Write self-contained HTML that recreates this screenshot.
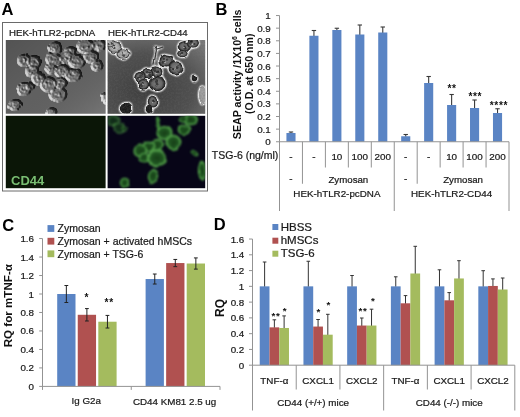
<!DOCTYPE html>
<html lang="en"><head><meta charset="utf-8"><title>Figure</title>
<style>html,body{margin:0;padding:0;background:#fff;}svg{display:block;}</style></head><body>
<svg width="520" height="417" viewBox="0 0 520 417" font-family='"Liberation Sans", Arial, sans-serif'>
<rect width="520" height="417" fill="#fff"/>
<defs>
<linearGradient id="bg1" x1="0" y1="0" x2="1" y2="1"><stop offset="0" stop-color="#5c5c5c"/><stop offset="0.55" stop-color="#747474"/><stop offset="1" stop-color="#868686"/></linearGradient>
<radialGradient id="bg2" cx="0.38" cy="0.68" r="0.9"><stop offset="0" stop-color="#3f3f3f"/><stop offset="0.55" stop-color="#505050"/><stop offset="1" stop-color="#7e7e7e"/></radialGradient>
<linearGradient id="dicS" x1="0" y1="1" x2="1" y2="0"><stop offset="0" stop-color="#f4f4f4"/><stop offset="0.35" stop-color="#c0c0c0" stop-opacity="0.7"/><stop offset="0.55" stop-color="#888" stop-opacity="0"/><stop offset="1" stop-color="#333" stop-opacity="0.5"/></linearGradient>
<linearGradient id="dicS2" x1="0" y1="1" x2="1" y2="0"><stop offset="0" stop-color="#111"/><stop offset="0.5" stop-color="#666"/><stop offset="1" stop-color="#eee"/></linearGradient>
<radialGradient id="dicF" cx="0.45" cy="0.55" r="0.6"><stop offset="0" stop-color="#a8a8a8"/><stop offset="0.7" stop-color="#858585"/><stop offset="1" stop-color="#5a5a5a"/></radialGradient>
<radialGradient id="phF" cx="0.5" cy="0.5" r="0.5"><stop offset="0" stop-color="#808080"/><stop offset="0.6" stop-color="#666"/><stop offset="0.86" stop-color="#262626"/><stop offset="1" stop-color="#181818"/></radialGradient>
<radialGradient id="phL" cx="0.5" cy="0.5" r="0.5"><stop offset="0" stop-color="#c4c4c4"/><stop offset="0.7" stop-color="#a8a8a8"/><stop offset="0.9" stop-color="#3a3a3a"/><stop offset="1" stop-color="#222"/></radialGradient>
<radialGradient id="flF" cx="0.5" cy="0.5" r="0.5"><stop offset="0" stop-color="#163c16"/><stop offset="0.62" stop-color="#205722"/><stop offset="0.87" stop-color="#5cab50"/><stop offset="1" stop-color="#3d8a38" stop-opacity="0.5"/></radialGradient>
<filter id="bl4" x="-10%" y="-10%" width="120%" height="120%"><feGaussianBlur stdDeviation="0.45"/></filter>
<filter id="bl6" x="-10%" y="-10%" width="120%" height="120%"><feGaussianBlur stdDeviation="0.7"/></filter>
<filter id="bl9" x="-10%" y="-10%" width="120%" height="120%"><feGaussianBlur stdDeviation="1.0"/></filter>
<filter id="noise" x="0" y="0" width="100%" height="100%"><feTurbulence type="fractalNoise" baseFrequency="0.35" numOctaves="2" seed="3" result="n"/><feColorMatrix type="matrix" values="0 0 0 0 0.5  0 0 0 0 0.5  0 0 0 0 0.5  0.9 0 0 0 -0.33"/></filter>
<radialGradient id="dome"><stop offset="0" stop-color="#000" stop-opacity="0.52"/><stop offset="0.8" stop-color="#000" stop-opacity="0.5"/><stop offset="0.93" stop-color="#000" stop-opacity="0.4"/><stop offset="1" stop-color="#000" stop-opacity="0"/></radialGradient>
<filter id="dic" filterUnits="userSpaceOnUse" x="5.8" y="40" width="99.8" height="73.8" color-interpolation-filters="sRGB"><feTurbulence type="fractalNoise" baseFrequency="0.09" numOctaves="2" seed="5" result="turb"/><feDisplacementMap in="SourceGraphic" in2="turb" scale="3" xChannelSelector="R" yChannelSelector="G" result="disp"/><feTurbulence type="fractalNoise" baseFrequency="0.45" numOctaves="2" seed="11" result="fine"/><feComposite in="disp" in2="fine" operator="arithmetic" k1="0.45" k2="0.75" k3="0" k4="0" result="tex"/><feGaussianBlur in="tex" stdDeviation="0.5" result="h"/><feDiffuseLighting in="h" surfaceScale="2.6" diffuseConstant="0.84" lighting-color="#ffffff" result="lit"><feDistantLight azimuth="150" elevation="30"/></feDiffuseLighting><feGaussianBlur in="lit" stdDeviation="0.35" result="lb"/><feComponentTransfer in="lb" result="lc"><feFuncR type="table" tableValues="0.08 0.27 0.45 0.82 1"/><feFuncG type="table" tableValues="0.08 0.27 0.45 0.82 1"/><feFuncB type="table" tableValues="0.08 0.27 0.45 0.82 1"/></feComponentTransfer><feFlood flood-color="#ffffff" flood-opacity="0.2" result="wf"/><feGaussianBlur in="disp" stdDeviation="0.9" result="db"/><feComposite in="wf" in2="db" operator="in" result="glow"/><feMerge><feMergeNode in="lc"/><feMergeNode in="glow"/></feMerge></filter>
<linearGradient id="ov1" x1="0" y1="0" x2="1" y2="1"><stop offset="0" stop-color="#000" stop-opacity="0.16"/><stop offset="0.5" stop-color="#000" stop-opacity="0.03"/><stop offset="1" stop-color="#fff" stop-opacity="0.12"/></linearGradient>
<filter id="warp6" filterUnits="userSpaceOnUse" x="107.6" y="40" width="97.6" height="73.8" color-interpolation-filters="sRGB"><feTurbulence type="fractalNoise" baseFrequency="0.1" numOctaves="2" seed="8" result="turb"/><feDisplacementMap in="SourceGraphic" in2="turb" scale="3.5" xChannelSelector="R" yChannelSelector="G" result="d"/><feGaussianBlur in="d" stdDeviation="0.55" result="cell"/><feGaussianBlur in="d" stdDeviation="1.4" result="wide"/><feGaussianBlur in="d" stdDeviation="0.45" result="tight"/><feComposite in="wide" in2="tight" operator="out" result="ring"/><feFlood flood-color="#f4f4f4" result="wf"/><feComposite in="wf" in2="ring" operator="in" result="halo0"/><feComponentTransfer in="halo0" result="halo"><feFuncA type="linear" slope="3.0" intercept="-0.08"/></feComponentTransfer><feTurbulence type="fractalNoise" baseFrequency="0.55" numOctaves="2" seed="31" result="fine"/><feColorMatrix in="fine" type="matrix" values="0 0 0 0 0.38  0 0 0 0 0.38  0 0 0 0 0.38  0 0 0 0.8 -0.3" result="grain"/><feMerge><feMergeNode in="cell"/><feMergeNode in="halo"/><feMergeNode in="grain"/></feMerge></filter>
<filter id="warp9" filterUnits="userSpaceOnUse" x="107.6" y="115.8" width="97.6" height="72.4" color-interpolation-filters="sRGB"><feTurbulence type="fractalNoise" baseFrequency="0.09" numOctaves="2" seed="14" result="turb"/><feDisplacementMap in="SourceGraphic" in2="turb" scale="3.5" xChannelSelector="R" yChannelSelector="G" result="d"/><feGaussianBlur in="d" stdDeviation="0.95"/></filter>
<filter id="grain" filterUnits="userSpaceOnUse" x="107.6" y="40" width="97.6" height="73.8"><feTurbulence type="fractalNoise" baseFrequency="0.5" numOctaves="2" seed="21"/><feColorMatrix type="matrix" values="0 0 0 0 0.5  0 0 0 0 0.5  0 0 0 0 0.5  0 0 0 0.9 -0.3"/></filter>
<clipPath id="c1"><rect x="5.8" y="40" width="99.8" height="73.8"/></clipPath>
<clipPath id="c2"><rect x="107.6" y="40" width="97.6" height="73.8"/></clipPath>
<clipPath id="c4"><rect x="107.6" y="115.8" width="97.6" height="72.4"/></clipPath>
</defs>
<rect x="2.5" y="22.5" width="205" height="168.5" fill="#fff" stroke="#6a6a6a" stroke-width="1"/>
<text x="9.00" y="36.20" font-size="9.7" text-anchor="start" font-weight="normal" fill="#1a1a1a" stroke="#1a1a1a" stroke-width="0.22" >HEK-hTLR2-pcDNA</text>
<text x="108.00" y="36.20" font-size="9.65" text-anchor="start" font-weight="normal" fill="#1a1a1a" stroke="#1a1a1a" stroke-width="0.22" >HEK-hTLR2-CD44</text>
<g clip-path="url(#c1)"><g filter="url(#dic)">
<ellipse cx="55.6" cy="47.6" rx="6.6" ry="5.6" fill="url(#dome)"/>
<ellipse cx="55.2" cy="46.9" rx="2.9" ry="2.4" fill="none" stroke="#000" stroke-opacity="0.35" stroke-width="0.9"/>
<circle cx="55.9" cy="48.1" r="0.8" fill="#000" fill-opacity="0.5"/>
<circle cx="55.5" cy="48.8" r="0.8" fill="#000" fill-opacity="0.5"/>
<ellipse cx="85.6" cy="46.4" rx="8.9" ry="7.0" fill="url(#dome)"/>
<ellipse cx="84.4" cy="45.7" rx="4.0" ry="2.9" fill="none" stroke="#000" stroke-opacity="0.35" stroke-width="0.9"/>
<circle cx="83.8" cy="47.6" r="0.8" fill="#000" fill-opacity="0.5"/>
<circle cx="88.1" cy="47.4" r="0.8" fill="#000" fill-opacity="0.5"/>
<ellipse cx="99.0" cy="45.0" rx="7.0" ry="5.1" fill="url(#dome)"/>
<ellipse cx="100.3" cy="44.9" rx="3.2" ry="2.2" fill="none" stroke="#000" stroke-opacity="0.35" stroke-width="0.9"/>
<circle cx="98.4" cy="46.0" r="0.8" fill="#000" fill-opacity="0.5"/>
<circle cx="100.3" cy="46.5" r="0.8" fill="#000" fill-opacity="0.5"/>
<ellipse cx="70.0" cy="52.0" rx="5.8" ry="5.1" fill="url(#dome)"/>
<ellipse cx="69.8" cy="51.4" rx="2.6" ry="2.2" fill="none" stroke="#000" stroke-opacity="0.35" stroke-width="0.9"/>
<circle cx="70.7" cy="50.7" r="0.8" fill="#000" fill-opacity="0.5"/>
<circle cx="71.5" cy="51.7" r="0.8" fill="#000" fill-opacity="0.5"/>
<ellipse cx="24.0" cy="60.4" rx="6.6" ry="6.1" fill="url(#dome)"/>
<ellipse cx="22.8" cy="60.7" rx="2.9" ry="2.6" fill="none" stroke="#000" stroke-opacity="0.35" stroke-width="0.9"/>
<circle cx="24.8" cy="59.9" r="0.8" fill="#000" fill-opacity="0.5"/>
<circle cx="24.6" cy="61.6" r="0.8" fill="#000" fill-opacity="0.5"/>
<ellipse cx="33.6" cy="62.4" rx="7.0" ry="7.0" fill="url(#dome)"/>
<ellipse cx="34.3" cy="61.2" rx="3.2" ry="2.9" fill="none" stroke="#000" stroke-opacity="0.35" stroke-width="0.9"/>
<circle cx="33.2" cy="61.8" r="0.8" fill="#000" fill-opacity="0.5"/>
<circle cx="32.3" cy="64.0" r="0.8" fill="#000" fill-opacity="0.5"/>
<ellipse cx="32.0" cy="71.0" rx="6.6" ry="5.8" fill="url(#dome)"/>
<ellipse cx="31.2" cy="70.5" rx="2.9" ry="2.5" fill="none" stroke="#000" stroke-opacity="0.35" stroke-width="0.9"/>
<circle cx="31.4" cy="72.4" r="0.8" fill="#000" fill-opacity="0.5"/>
<circle cx="32.9" cy="70.2" r="0.8" fill="#000" fill-opacity="0.5"/>
<ellipse cx="54.0" cy="59.0" rx="8.2" ry="6.6" fill="url(#dome)"/>
<ellipse cx="53.3" cy="59.1" rx="3.7" ry="2.8" fill="none" stroke="#000" stroke-opacity="0.35" stroke-width="0.9"/>
<circle cx="53.7" cy="60.8" r="0.8" fill="#000" fill-opacity="0.5"/>
<circle cx="54.9" cy="59.8" r="0.8" fill="#000" fill-opacity="0.5"/>
<ellipse cx="66.0" cy="58.0" rx="6.6" ry="6.1" fill="url(#dome)"/>
<ellipse cx="65.4" cy="58.2" rx="2.9" ry="2.6" fill="none" stroke="#000" stroke-opacity="0.35" stroke-width="0.9"/>
<circle cx="67.9" cy="59.4" r="0.8" fill="#000" fill-opacity="0.5"/>
<circle cx="65.6" cy="58.1" r="0.8" fill="#000" fill-opacity="0.5"/>
<ellipse cx="77.0" cy="61.6" rx="8.2" ry="7.0" fill="url(#dome)"/>
<ellipse cx="76.1" cy="61.8" rx="3.7" ry="2.9" fill="none" stroke="#000" stroke-opacity="0.35" stroke-width="0.9"/>
<circle cx="75.0" cy="63.7" r="0.8" fill="#000" fill-opacity="0.5"/>
<circle cx="77.8" cy="63.0" r="0.8" fill="#000" fill-opacity="0.5"/>
<ellipse cx="91.0" cy="57.0" rx="7.5" ry="6.1" fill="url(#dome)"/>
<ellipse cx="89.6" cy="57.3" rx="3.4" ry="2.6" fill="none" stroke="#000" stroke-opacity="0.35" stroke-width="0.9"/>
<circle cx="93.2" cy="58.7" r="0.8" fill="#000" fill-opacity="0.5"/>
<circle cx="91.4" cy="57.8" r="0.8" fill="#000" fill-opacity="0.5"/>
<ellipse cx="97.0" cy="66.0" rx="5.8" ry="5.1" fill="url(#dome)"/>
<ellipse cx="96.3" cy="66.6" rx="2.6" ry="2.2" fill="none" stroke="#000" stroke-opacity="0.35" stroke-width="0.9"/>
<circle cx="96.7" cy="65.5" r="0.8" fill="#000" fill-opacity="0.5"/>
<circle cx="97.6" cy="67.5" r="0.8" fill="#000" fill-opacity="0.5"/>
<ellipse cx="51.0" cy="69.0" rx="6.1" ry="5.1" fill="url(#dome)"/>
<ellipse cx="50.7" cy="68.1" rx="2.7" ry="2.2" fill="none" stroke="#000" stroke-opacity="0.35" stroke-width="0.9"/>
<circle cx="50.4" cy="69.3" r="0.8" fill="#000" fill-opacity="0.5"/>
<circle cx="52.5" cy="68.8" r="0.8" fill="#000" fill-opacity="0.5"/>
<ellipse cx="62.0" cy="71.0" rx="7.5" ry="6.6" fill="url(#dome)"/>
<ellipse cx="62.5" cy="70.0" rx="3.4" ry="2.8" fill="none" stroke="#000" stroke-opacity="0.35" stroke-width="0.9"/>
<circle cx="60.4" cy="69.6" r="0.8" fill="#000" fill-opacity="0.5"/>
<circle cx="63.5" cy="71.8" r="0.8" fill="#000" fill-opacity="0.5"/>
<ellipse cx="73.0" cy="75.0" rx="8.2" ry="6.6" fill="url(#dome)"/>
<ellipse cx="73.0" cy="73.9" rx="3.7" ry="2.8" fill="none" stroke="#000" stroke-opacity="0.35" stroke-width="0.9"/>
<circle cx="75.1" cy="73.6" r="0.8" fill="#000" fill-opacity="0.5"/>
<circle cx="73.8" cy="73.3" r="0.8" fill="#000" fill-opacity="0.5"/>
<ellipse cx="38.4" cy="78.0" rx="6.6" ry="6.1" fill="url(#dome)"/>
<ellipse cx="39.1" cy="77.2" rx="2.9" ry="2.6" fill="none" stroke="#000" stroke-opacity="0.35" stroke-width="0.9"/>
<circle cx="37.5" cy="78.4" r="0.8" fill="#000" fill-opacity="0.5"/>
<circle cx="39.8" cy="79.0" r="0.8" fill="#000" fill-opacity="0.5"/>
<ellipse cx="48.4" cy="84.4" rx="8.2" ry="7.5" fill="url(#dome)"/>
<ellipse cx="48.5" cy="83.3" rx="3.7" ry="3.1" fill="none" stroke="#000" stroke-opacity="0.35" stroke-width="0.9"/>
<circle cx="46.1" cy="83.6" r="0.8" fill="#000" fill-opacity="0.5"/>
<circle cx="49.1" cy="84.8" r="0.8" fill="#000" fill-opacity="0.5"/>
<ellipse cx="60.4" cy="83.0" rx="6.6" ry="5.8" fill="url(#dome)"/>
<ellipse cx="61.6" cy="84.2" rx="2.9" ry="2.5" fill="none" stroke="#000" stroke-opacity="0.35" stroke-width="0.9"/>
<circle cx="60.4" cy="81.5" r="0.8" fill="#000" fill-opacity="0.5"/>
<circle cx="59.9" cy="81.9" r="0.8" fill="#000" fill-opacity="0.5"/>
<ellipse cx="24.0" cy="89.0" rx="7.0" ry="6.6" fill="url(#dome)"/>
<ellipse cx="24.5" cy="88.9" rx="3.2" ry="2.8" fill="none" stroke="#000" stroke-opacity="0.35" stroke-width="0.9"/>
<circle cx="24.5" cy="87.6" r="0.8" fill="#000" fill-opacity="0.5"/>
<circle cx="25.4" cy="90.8" r="0.8" fill="#000" fill-opacity="0.5"/>
<ellipse cx="30.0" cy="86.0" rx="4.7" ry="4.2" fill="url(#dome)"/>
<ellipse cx="29.3" cy="86.1" rx="2.1" ry="1.8" fill="none" stroke="#000" stroke-opacity="0.35" stroke-width="0.9"/>
<circle cx="29.3" cy="85.4" r="0.8" fill="#000" fill-opacity="0.5"/>
<circle cx="28.6" cy="85.9" r="0.8" fill="#000" fill-opacity="0.5"/>
<ellipse cx="58.4" cy="94.4" rx="8.4" ry="7.5" fill="url(#dome)"/>
<ellipse cx="57.1" cy="95.3" rx="3.8" ry="3.1" fill="none" stroke="#000" stroke-opacity="0.35" stroke-width="0.9"/>
<circle cx="59.3" cy="93.2" r="0.8" fill="#000" fill-opacity="0.5"/>
<circle cx="59.1" cy="94.9" r="0.8" fill="#000" fill-opacity="0.5"/>
<ellipse cx="15.0" cy="105.0" rx="6.1" ry="5.6" fill="url(#dome)"/>
<ellipse cx="15.6" cy="104.2" rx="2.7" ry="2.4" fill="none" stroke="#000" stroke-opacity="0.35" stroke-width="0.9"/>
<circle cx="15.9" cy="106.2" r="0.8" fill="#000" fill-opacity="0.5"/>
<circle cx="14.8" cy="103.6" r="0.8" fill="#000" fill-opacity="0.5"/>
<ellipse cx="51.6" cy="111.6" rx="5.1" ry="3.7" fill="url(#dome)"/>
<ellipse cx="50.7" cy="111.4" rx="2.3" ry="1.6" fill="none" stroke="#000" stroke-opacity="0.35" stroke-width="0.9"/>
<circle cx="52.5" cy="110.6" r="0.8" fill="#000" fill-opacity="0.5"/>
<circle cx="50.4" cy="111.2" r="0.8" fill="#000" fill-opacity="0.5"/>
<ellipse cx="105.0" cy="98.0" rx="3.3" ry="5.1" fill="url(#dome)"/>
<ellipse cx="105.3" cy="97.2" rx="1.5" ry="2.2" fill="none" stroke="#000" stroke-opacity="0.35" stroke-width="0.9"/>
<circle cx="105.3" cy="96.8" r="0.8" fill="#000" fill-opacity="0.5"/>
<circle cx="104.3" cy="96.8" r="0.8" fill="#000" fill-opacity="0.5"/>
</g>
<rect x="5.80" y="40.00" width="99.80" height="73.80" fill="url(#ov1)" />
</g>
<rect x="107.60" y="40.00" width="97.60" height="73.80" fill="url(#bg2)" />
<g clip-path="url(#c2)">
<g filter="url(#warp6)">
<path d="M156.5 46 L156 52 L154 64" stroke="#3a3a3a" stroke-width="1.3" fill="none" stroke-linecap="round"/>
<path d="M153 45 L157 49 L163 47" stroke="#3a3a3a" stroke-width="1.1" fill="none"/>
<ellipse cx="115.0" cy="47.0" rx="7.7" ry="6.0" fill="url(#phL)"/>
<circle cx="114.3" cy="47.9" r="1.2" fill="#222" opacity="0.75"/>
<circle cx="114.4" cy="45.4" r="0.8" fill="#222" opacity="0.75"/>
<circle cx="113.7" cy="44.8" r="0.9" fill="#222" opacity="0.75"/>
<ellipse cx="123.0" cy="54.0" rx="6.7" ry="4.8" fill="url(#phL)"/>
<circle cx="123.9" cy="55.6" r="1.3" fill="#222" opacity="0.75"/>
<circle cx="121.9" cy="52.8" r="1.0" fill="#222" opacity="0.75"/>
<circle cx="122.4" cy="54.2" r="0.8" fill="#222" opacity="0.75"/>
<ellipse cx="110.0" cy="43.0" rx="4.8" ry="4.3" fill="url(#phL)"/>
<circle cx="111.5" cy="42.0" r="0.9" fill="#222" opacity="0.75"/>
<circle cx="108.5" cy="43.9" r="1.3" fill="#222" opacity="0.75"/>
<circle cx="111.9" cy="43.6" r="1.2" fill="#222" opacity="0.75"/>
<ellipse cx="166.4" cy="61.0" rx="7.2" ry="6.7" fill="url(#phF)"/>
<circle cx="163.8" cy="58.9" r="1.1" fill="#1a1a1a" opacity="0.7"/>
<circle cx="167.2" cy="59.7" r="1.1" fill="#1a1a1a" opacity="0.7"/>
<circle cx="164.0" cy="62.4" r="1.4" fill="#1a1a1a" opacity="0.7"/>
<circle cx="165.9" cy="62.2" r="0.8" fill="#e8e8e8" opacity="0.7"/>
<ellipse cx="175.6" cy="68.0" rx="7.2" ry="6.7" fill="url(#phF)"/>
<circle cx="173.3" cy="69.1" r="1.1" fill="#1a1a1a" opacity="0.7"/>
<circle cx="177.3" cy="67.6" r="1.3" fill="#1a1a1a" opacity="0.7"/>
<circle cx="172.9" cy="69.0" r="0.8" fill="#1a1a1a" opacity="0.7"/>
<circle cx="175.1" cy="69.2" r="0.8" fill="#e8e8e8" opacity="0.7"/>
<ellipse cx="156.4" cy="71.6" rx="6.0" ry="5.3" fill="url(#phF)"/>
<circle cx="154.8" cy="69.7" r="1.4" fill="#1a1a1a" opacity="0.7"/>
<circle cx="157.4" cy="71.8" r="1.3" fill="#1a1a1a" opacity="0.7"/>
<circle cx="157.3" cy="70.7" r="1.2" fill="#1a1a1a" opacity="0.7"/>
<circle cx="155.9" cy="72.8" r="0.8" fill="#e8e8e8" opacity="0.7"/>
<ellipse cx="147.6" cy="74.0" rx="5.8" ry="5.3" fill="url(#phF)"/>
<circle cx="146.7" cy="72.7" r="1.2" fill="#1a1a1a" opacity="0.7"/>
<circle cx="149.9" cy="75.9" r="1.5" fill="#1a1a1a" opacity="0.7"/>
<circle cx="148.8" cy="73.2" r="1.4" fill="#1a1a1a" opacity="0.7"/>
<circle cx="147.1" cy="75.2" r="0.8" fill="#e8e8e8" opacity="0.7"/>
<ellipse cx="140.0" cy="77.6" rx="5.8" ry="5.8" fill="url(#phF)"/>
<circle cx="141.6" cy="75.7" r="1.3" fill="#1a1a1a" opacity="0.7"/>
<circle cx="138.3" cy="78.2" r="1.5" fill="#1a1a1a" opacity="0.7"/>
<circle cx="140.3" cy="77.2" r="1.3" fill="#1a1a1a" opacity="0.7"/>
<circle cx="139.5" cy="78.8" r="0.8" fill="#e8e8e8" opacity="0.7"/>
<ellipse cx="143.4" cy="84.4" rx="5.8" ry="5.3" fill="url(#phF)"/>
<circle cx="142.6" cy="86.0" r="0.9" fill="#1a1a1a" opacity="0.7"/>
<circle cx="141.5" cy="85.5" r="1.3" fill="#1a1a1a" opacity="0.7"/>
<circle cx="142.7" cy="83.2" r="1.1" fill="#1a1a1a" opacity="0.7"/>
<circle cx="142.9" cy="85.6" r="0.8" fill="#e8e8e8" opacity="0.7"/>
<ellipse cx="157.0" cy="83.6" rx="8.6" ry="7.7" fill="url(#phF)"/>
<circle cx="156.9" cy="83.3" r="1.5" fill="#1a1a1a" opacity="0.7"/>
<circle cx="156.5" cy="80.5" r="1.5" fill="#1a1a1a" opacity="0.7"/>
<circle cx="156.4" cy="85.4" r="1.1" fill="#1a1a1a" opacity="0.7"/>
<circle cx="156.5" cy="84.8" r="0.8" fill="#e8e8e8" opacity="0.7"/>
<ellipse cx="184.4" cy="46.4" rx="6.7" ry="5.3" fill="url(#phF)"/>
<circle cx="184.8" cy="48.2" r="1.5" fill="#1a1a1a" opacity="0.7"/>
<circle cx="184.5" cy="45.7" r="1.3" fill="#1a1a1a" opacity="0.7"/>
<circle cx="185.8" cy="47.6" r="1.0" fill="#1a1a1a" opacity="0.7"/>
<circle cx="183.9" cy="47.6" r="0.8" fill="#e8e8e8" opacity="0.7"/>
<ellipse cx="193.0" cy="43.0" rx="6.0" ry="4.8" fill="url(#phF)"/>
<circle cx="194.4" cy="44.2" r="1.1" fill="#1a1a1a" opacity="0.7"/>
<circle cx="191.7" cy="41.3" r="1.3" fill="#1a1a1a" opacity="0.7"/>
<circle cx="190.9" cy="42.3" r="1.5" fill="#1a1a1a" opacity="0.7"/>
<circle cx="192.5" cy="44.2" r="0.8" fill="#e8e8e8" opacity="0.7"/>
<ellipse cx="182.4" cy="53.6" rx="5.3" ry="3.6" fill="url(#phF)"/>
<circle cx="182.1" cy="52.9" r="1.2" fill="#1a1a1a" opacity="0.7"/>
<circle cx="181.9" cy="54.9" r="0.9" fill="#1a1a1a" opacity="0.7"/>
<circle cx="180.4" cy="53.8" r="0.9" fill="#1a1a1a" opacity="0.7"/>
<circle cx="181.9" cy="54.8" r="0.8" fill="#e8e8e8" opacity="0.7"/>
<ellipse cx="194.4" cy="78.0" rx="2.9" ry="3.4" fill="#1c1c1c"/>
<ellipse cx="203.2" cy="95.0" rx="4.3" ry="9.1" fill="#a0a0a0"/>
<ellipse cx="153.0" cy="101.6" rx="5.3" ry="6.2" fill="url(#phF)"/>
<circle cx="154.1" cy="100.9" r="1.3" fill="#1a1a1a" opacity="0.7"/>
<circle cx="152.4" cy="102.8" r="1.0" fill="#1a1a1a" opacity="0.7"/>
<circle cx="152.7" cy="100.7" r="0.9" fill="#1a1a1a" opacity="0.7"/>
<circle cx="152.5" cy="102.8" r="0.8" fill="#e8e8e8" opacity="0.7"/>
<ellipse cx="126.0" cy="108.4" rx="6.2" ry="5.3" fill="#1c1c1c"/>
<ellipse cx="149.0" cy="109.6" rx="3.4" ry="4.8" fill="#1c1c1c"/>
</g></g>
<rect x="5.80" y="115.80" width="99.80" height="72.40" fill="#0b1607" />
<rect x="107.60" y="115.80" width="97.60" height="72.40" fill="#070517" />
<g clip-path="url(#c4)"><g filter="url(#warp9)">
<path d="M157.5 118 L158 124 L161 131" stroke="#3f8a3a" stroke-width="3" fill="none" stroke-linecap="round"/>
<ellipse cx="113.6" cy="121.0" rx="7.3" ry="6.5" fill="url(#flF)" opacity="0.6" transform="rotate(0 113.6 121.0)"/>
<ellipse cx="119.6" cy="128.4" rx="6.5" ry="5.7" fill="url(#flF)" opacity="0.6" transform="rotate(0 119.6 128.4)"/>
<ellipse cx="125.0" cy="129.6" rx="3.1" ry="2.6" fill="url(#flF)" opacity="0.6" transform="rotate(0 125.0 129.6)"/>
<ellipse cx="164.4" cy="133.0" rx="8.3" ry="7.3" fill="url(#flF)" opacity="1" transform="rotate(0 164.4 133.0)"/>
<ellipse cx="173.4" cy="142.4" rx="8.3" ry="7.8" fill="url(#flF)" opacity="1" transform="rotate(0 173.4 142.4)"/>
<ellipse cx="157.0" cy="145.0" rx="7.3" ry="6.5" fill="url(#flF)" opacity="1" transform="rotate(0 157.0 145.0)"/>
<ellipse cx="149.0" cy="146.4" rx="6.8" ry="6.2" fill="url(#flF)" opacity="1" transform="rotate(0 149.0 146.4)"/>
<ellipse cx="140.4" cy="151.0" rx="7.3" ry="6.8" fill="url(#flF)" opacity="1" transform="rotate(0 140.4 151.0)"/>
<ellipse cx="144.4" cy="157.6" rx="5.7" ry="5.2" fill="url(#flF)" opacity="1" transform="rotate(0 144.4 157.6)"/>
<ellipse cx="156.4" cy="158.4" rx="9.9" ry="9.4" fill="url(#flF)" opacity="1" transform="rotate(0 156.4 158.4)"/>
<ellipse cx="184.0" cy="129.6" rx="6.5" ry="5.7" fill="url(#flF)" opacity="1" transform="rotate(0 184.0 129.6)"/>
<ellipse cx="190.4" cy="119.6" rx="7.8" ry="5.7" fill="url(#flF)" opacity="1" transform="rotate(0 190.4 119.6)"/>
<ellipse cx="183.0" cy="119.0" rx="4.7" ry="3.9" fill="url(#flF)" opacity="1" transform="rotate(0 183.0 119.0)"/>
<ellipse cx="194.4" cy="153.0" rx="4.7" ry="2.3" fill="url(#flF)" opacity="1" transform="rotate(35 194.4 153.0)"/>
<ellipse cx="202.0" cy="170.4" rx="4.2" ry="9.9" fill="url(#flF)" opacity="1" transform="rotate(0 202.0 170.4)"/>
<ellipse cx="153.0" cy="176.0" rx="5.2" ry="7.3" fill="url(#flF)" opacity="1" transform="rotate(10 153.0 176.0)"/>
<ellipse cx="125.0" cy="183.0" rx="5.2" ry="5.7" fill="url(#flF)" opacity="1" transform="rotate(-20 125.0 183.0)"/>
</g></g>
<text x="11.00" y="185.30" font-size="13" text-anchor="start" font-weight="bold" fill="#79bd72"  >CD44</text>
<line x1="290.98" y1="132.00" x2="290.98" y2="133.50" stroke="#3a3a3a" stroke-width="1.1"/>
<line x1="288.78" y1="132.00" x2="293.18" y2="132.00" stroke="#3a3a3a" stroke-width="1.1"/>
<rect x="286.43" y="133.00" width="9.10" height="8.75" fill="#5a84c4" />
<line x1="313.93" y1="30.50" x2="313.93" y2="36.25" stroke="#3a3a3a" stroke-width="1.1"/>
<line x1="311.73" y1="30.50" x2="316.12" y2="30.50" stroke="#3a3a3a" stroke-width="1.1"/>
<rect x="309.38" y="35.75" width="9.10" height="106.00" fill="#5a84c4" />
<line x1="336.88" y1="28.25" x2="336.88" y2="30.50" stroke="#3a3a3a" stroke-width="1.1"/>
<line x1="334.68" y1="28.25" x2="339.07" y2="28.25" stroke="#3a3a3a" stroke-width="1.1"/>
<rect x="332.32" y="30.00" width="9.10" height="111.75" fill="#5a84c4" />
<line x1="359.82" y1="25.00" x2="359.82" y2="35.00" stroke="#3a3a3a" stroke-width="1.1"/>
<line x1="357.62" y1="25.00" x2="362.02" y2="25.00" stroke="#3a3a3a" stroke-width="1.1"/>
<rect x="355.27" y="34.50" width="9.10" height="107.25" fill="#5a84c4" />
<line x1="382.77" y1="27.00" x2="382.77" y2="33.00" stroke="#3a3a3a" stroke-width="1.1"/>
<line x1="380.57" y1="27.00" x2="384.97" y2="27.00" stroke="#3a3a3a" stroke-width="1.1"/>
<rect x="378.22" y="32.50" width="9.10" height="109.25" fill="#5a84c4" />
<line x1="405.73" y1="134.50" x2="405.73" y2="136.75" stroke="#3a3a3a" stroke-width="1.1"/>
<line x1="403.53" y1="134.50" x2="407.93" y2="134.50" stroke="#3a3a3a" stroke-width="1.1"/>
<rect x="401.18" y="136.25" width="9.10" height="5.50" fill="#5a84c4" />
<line x1="428.67" y1="76.50" x2="428.67" y2="83.50" stroke="#3a3a3a" stroke-width="1.1"/>
<line x1="426.47" y1="76.50" x2="430.87" y2="76.50" stroke="#3a3a3a" stroke-width="1.1"/>
<rect x="424.12" y="83.00" width="9.10" height="58.75" fill="#5a84c4" />
<line x1="451.62" y1="94.50" x2="451.62" y2="105.50" stroke="#3a3a3a" stroke-width="1.1"/>
<line x1="449.43" y1="94.50" x2="453.82" y2="94.50" stroke="#3a3a3a" stroke-width="1.1"/>
<rect x="447.07" y="105.00" width="9.10" height="36.75" fill="#5a84c4" />
<line x1="474.57" y1="100.00" x2="474.57" y2="108.50" stroke="#3a3a3a" stroke-width="1.1"/>
<line x1="472.38" y1="100.00" x2="476.77" y2="100.00" stroke="#3a3a3a" stroke-width="1.1"/>
<rect x="470.02" y="108.00" width="9.10" height="33.75" fill="#5a84c4" />
<line x1="497.52" y1="108.75" x2="497.52" y2="113.50" stroke="#3a3a3a" stroke-width="1.1"/>
<line x1="495.32" y1="108.75" x2="499.72" y2="108.75" stroke="#3a3a3a" stroke-width="1.1"/>
<rect x="492.97" y="113.00" width="9.10" height="28.75" fill="#5a84c4" />
<line x1="279.50" y1="15.50" x2="279.50" y2="211.00" stroke="#939393" stroke-width="1"/>
<line x1="279.50" y1="141.75" x2="509.00" y2="141.75" stroke="#939393" stroke-width="1"/>
<line x1="276.00" y1="141.75" x2="279.50" y2="141.75" stroke="#939393" stroke-width="1"/>
<text x="270.80" y="145.25" font-size="9.8" text-anchor="end" font-weight="normal" fill="#1a1a1a" stroke="#1a1a1a" stroke-width="0.22" >0</text>
<line x1="276.00" y1="129.13" x2="279.50" y2="129.13" stroke="#939393" stroke-width="1"/>
<text x="270.80" y="132.63" font-size="9.8" text-anchor="end" font-weight="normal" fill="#1a1a1a" stroke="#1a1a1a" stroke-width="0.22" >0.1</text>
<line x1="276.00" y1="116.51" x2="279.50" y2="116.51" stroke="#939393" stroke-width="1"/>
<text x="270.80" y="120.01" font-size="9.8" text-anchor="end" font-weight="normal" fill="#1a1a1a" stroke="#1a1a1a" stroke-width="0.22" >0.2</text>
<line x1="276.00" y1="103.89" x2="279.50" y2="103.89" stroke="#939393" stroke-width="1"/>
<text x="270.80" y="107.39" font-size="9.8" text-anchor="end" font-weight="normal" fill="#1a1a1a" stroke="#1a1a1a" stroke-width="0.22" >0.3</text>
<line x1="276.00" y1="91.27" x2="279.50" y2="91.27" stroke="#939393" stroke-width="1"/>
<text x="270.80" y="94.77" font-size="9.8" text-anchor="end" font-weight="normal" fill="#1a1a1a" stroke="#1a1a1a" stroke-width="0.22" >0.4</text>
<line x1="276.00" y1="78.65" x2="279.50" y2="78.65" stroke="#939393" stroke-width="1"/>
<text x="270.80" y="82.15" font-size="9.8" text-anchor="end" font-weight="normal" fill="#1a1a1a" stroke="#1a1a1a" stroke-width="0.22" >0.5</text>
<line x1="276.00" y1="66.03" x2="279.50" y2="66.03" stroke="#939393" stroke-width="1"/>
<text x="270.80" y="69.53" font-size="9.8" text-anchor="end" font-weight="normal" fill="#1a1a1a" stroke="#1a1a1a" stroke-width="0.22" >0.6</text>
<line x1="276.00" y1="53.41" x2="279.50" y2="53.41" stroke="#939393" stroke-width="1"/>
<text x="270.80" y="56.91" font-size="9.8" text-anchor="end" font-weight="normal" fill="#1a1a1a" stroke="#1a1a1a" stroke-width="0.22" >0.7</text>
<line x1="276.00" y1="40.79" x2="279.50" y2="40.79" stroke="#939393" stroke-width="1"/>
<text x="270.80" y="44.29" font-size="9.8" text-anchor="end" font-weight="normal" fill="#1a1a1a" stroke="#1a1a1a" stroke-width="0.22" >0.8</text>
<line x1="276.00" y1="28.17" x2="279.50" y2="28.17" stroke="#939393" stroke-width="1"/>
<text x="270.80" y="31.67" font-size="9.8" text-anchor="end" font-weight="normal" fill="#1a1a1a" stroke="#1a1a1a" stroke-width="0.22" >0.9</text>
<line x1="276.00" y1="15.55" x2="279.50" y2="15.55" stroke="#939393" stroke-width="1"/>
<text x="270.80" y="19.05" font-size="9.8" text-anchor="end" font-weight="normal" fill="#1a1a1a" stroke="#1a1a1a" stroke-width="0.22" >1</text>
<line x1="302.45" y1="141.75" x2="302.45" y2="183.75" stroke="#939393" stroke-width="1"/>
<line x1="325.40" y1="141.75" x2="325.40" y2="167.50" stroke="#939393" stroke-width="1"/>
<line x1="348.35" y1="141.75" x2="348.35" y2="167.50" stroke="#939393" stroke-width="1"/>
<line x1="371.30" y1="141.75" x2="371.30" y2="167.50" stroke="#939393" stroke-width="1"/>
<line x1="394.25" y1="141.75" x2="394.25" y2="211.00" stroke="#939393" stroke-width="1"/>
<line x1="417.20" y1="141.75" x2="417.20" y2="183.75" stroke="#939393" stroke-width="1"/>
<line x1="440.15" y1="141.75" x2="440.15" y2="167.50" stroke="#939393" stroke-width="1"/>
<line x1="463.10" y1="141.75" x2="463.10" y2="167.50" stroke="#939393" stroke-width="1"/>
<line x1="486.05" y1="141.75" x2="486.05" y2="167.50" stroke="#939393" stroke-width="1"/>
<line x1="509.00" y1="141.75" x2="509.00" y2="211.00" stroke="#939393" stroke-width="1"/>
<text x="290.98" y="159.80" font-size="9.9" text-anchor="middle" font-weight="normal" fill="#1a1a1a" stroke="#1a1a1a" stroke-width="0.22" >-</text>
<text x="313.93" y="159.80" font-size="9.9" text-anchor="middle" font-weight="normal" fill="#1a1a1a" stroke="#1a1a1a" stroke-width="0.22" >-</text>
<text x="336.88" y="159.80" font-size="9.9" text-anchor="middle" font-weight="normal" fill="#1a1a1a" stroke="#1a1a1a" stroke-width="0.22" >10</text>
<text x="359.82" y="159.80" font-size="9.9" text-anchor="middle" font-weight="normal" fill="#1a1a1a" stroke="#1a1a1a" stroke-width="0.22" >100</text>
<text x="382.77" y="159.80" font-size="9.9" text-anchor="middle" font-weight="normal" fill="#1a1a1a" stroke="#1a1a1a" stroke-width="0.22" >200</text>
<text x="405.73" y="159.80" font-size="9.9" text-anchor="middle" font-weight="normal" fill="#1a1a1a" stroke="#1a1a1a" stroke-width="0.22" >-</text>
<text x="428.67" y="159.80" font-size="9.9" text-anchor="middle" font-weight="normal" fill="#1a1a1a" stroke="#1a1a1a" stroke-width="0.22" >-</text>
<text x="451.62" y="159.80" font-size="9.9" text-anchor="middle" font-weight="normal" fill="#1a1a1a" stroke="#1a1a1a" stroke-width="0.22" >10</text>
<text x="474.57" y="159.80" font-size="9.9" text-anchor="middle" font-weight="normal" fill="#1a1a1a" stroke="#1a1a1a" stroke-width="0.22" >100</text>
<text x="497.52" y="159.80" font-size="9.9" text-anchor="middle" font-weight="normal" fill="#1a1a1a" stroke="#1a1a1a" stroke-width="0.22" >200</text>
<text x="211.80" y="159.00" font-size="10.5" text-anchor="start" font-weight="normal" fill="#1a1a1a" stroke="#1a1a1a" stroke-width="0.22" >TSG-6 (ng/ml)</text>
<text x="290.98" y="182.30" font-size="9.8" text-anchor="middle" font-weight="normal" fill="#1a1a1a" stroke="#1a1a1a" stroke-width="0.22" >-</text>
<text x="348.35" y="182.80" font-size="9.7" text-anchor="middle" font-weight="normal" fill="#1a1a1a" stroke="#1a1a1a" stroke-width="0.22" >Zymosan</text>
<text x="405.73" y="182.30" font-size="9.8" text-anchor="middle" font-weight="normal" fill="#1a1a1a" stroke="#1a1a1a" stroke-width="0.22" >-</text>
<text x="463.10" y="182.80" font-size="9.7" text-anchor="middle" font-weight="normal" fill="#1a1a1a" stroke="#1a1a1a" stroke-width="0.22" >Zymosan</text>
<text x="336.88" y="196.70" font-size="9.8" text-anchor="middle" font-weight="normal" fill="#1a1a1a" stroke="#1a1a1a" stroke-width="0.22" >HEK-hTLR2-pcDNA</text>
<text x="451.62" y="196.70" font-size="9.8" text-anchor="middle" font-weight="normal" fill="#1a1a1a" stroke="#1a1a1a" stroke-width="0.22" >HEK-hTLR2-CD44</text>
<text x="452.10" y="92.40" font-size="10.2" text-anchor="middle" font-weight="bold" fill="#111"  letter-spacing="0.6">**</text>
<text x="475.30" y="99.90" font-size="10.2" text-anchor="middle" font-weight="bold" fill="#111"  letter-spacing="0.6">***</text>
<text x="498.90" y="109.20" font-size="10.2" text-anchor="middle" font-weight="bold" fill="#111"  letter-spacing="0.6">****</text>
<text transform="translate(240.5,74.3) rotate(-90)" font-size="10.9" font-weight="bold" text-anchor="middle" fill="#111" textLength="129.7" lengthAdjust="spacingAndGlyphs">SEAP activity /1X10<tspan font-size="7" dy="-3.6">6</tspan><tspan dy="3.6"> cells</tspan></text>
<text transform="translate(252.6,73.8) rotate(-90)" font-size="10.9" font-weight="bold" text-anchor="middle" fill="#111" textLength="80.4" lengthAdjust="spacingAndGlyphs">(O.D. at 650 nm)</text>
<rect x="57.20" y="294.00" width="18.30" height="92.40" fill="#5a84c4" />
<line x1="66.35" y1="285.50" x2="66.35" y2="302.50" stroke="#222" stroke-width="1"/>
<line x1="64.45" y1="285.50" x2="68.25" y2="285.50" stroke="#222" stroke-width="1"/>
<line x1="64.45" y1="302.50" x2="68.25" y2="302.50" stroke="#222" stroke-width="1"/>
<rect x="77.75" y="314.79" width="18.30" height="71.61" fill="#b05150" />
<line x1="86.90" y1="308.59" x2="86.90" y2="320.99" stroke="#222" stroke-width="1"/>
<line x1="85.00" y1="308.59" x2="88.80" y2="308.59" stroke="#222" stroke-width="1"/>
<line x1="85.00" y1="320.99" x2="88.80" y2="320.99" stroke="#222" stroke-width="1"/>
<rect x="98.30" y="321.72" width="18.30" height="64.68" fill="#a4bb5e" />
<line x1="107.45" y1="315.42" x2="107.45" y2="328.02" stroke="#222" stroke-width="1"/>
<line x1="105.55" y1="315.42" x2="109.35" y2="315.42" stroke="#222" stroke-width="1"/>
<line x1="105.55" y1="328.02" x2="109.35" y2="328.02" stroke="#222" stroke-width="1"/>
<rect x="145.60" y="279.03" width="18.30" height="107.37" fill="#5a84c4" />
<line x1="154.75" y1="274.03" x2="154.75" y2="284.03" stroke="#222" stroke-width="1"/>
<line x1="152.85" y1="274.03" x2="156.65" y2="274.03" stroke="#222" stroke-width="1"/>
<line x1="152.85" y1="284.03" x2="156.65" y2="284.03" stroke="#222" stroke-width="1"/>
<rect x="166.15" y="263.05" width="18.30" height="123.35" fill="#b05150" />
<line x1="175.30" y1="259.45" x2="175.30" y2="266.65" stroke="#222" stroke-width="1"/>
<line x1="173.40" y1="259.45" x2="177.20" y2="259.45" stroke="#222" stroke-width="1"/>
<line x1="173.40" y1="266.65" x2="177.20" y2="266.65" stroke="#222" stroke-width="1"/>
<rect x="186.70" y="263.51" width="18.30" height="122.89" fill="#a4bb5e" />
<line x1="195.85" y1="257.91" x2="195.85" y2="269.11" stroke="#222" stroke-width="1"/>
<line x1="193.95" y1="257.91" x2="197.75" y2="257.91" stroke="#222" stroke-width="1"/>
<line x1="193.95" y1="269.11" x2="197.75" y2="269.11" stroke="#222" stroke-width="1"/>
<line x1="42.50" y1="238.56" x2="42.50" y2="389.90" stroke="#939393" stroke-width="1"/>
<line x1="42.50" y1="386.40" x2="220.00" y2="386.40" stroke="#939393" stroke-width="1"/>
<line x1="131.25" y1="386.40" x2="131.25" y2="389.90" stroke="#939393" stroke-width="1"/>
<line x1="220.00" y1="386.40" x2="220.00" y2="389.90" stroke="#939393" stroke-width="1"/>
<line x1="39.20" y1="386.40" x2="42.50" y2="386.40" stroke="#939393" stroke-width="1"/>
<text x="34.00" y="389.90" font-size="9.8" text-anchor="end" font-weight="normal" fill="#1a1a1a" stroke="#1a1a1a" stroke-width="0.22" >0</text>
<line x1="39.20" y1="367.92" x2="42.50" y2="367.92" stroke="#939393" stroke-width="1"/>
<text x="34.00" y="371.42" font-size="9.8" text-anchor="end" font-weight="normal" fill="#1a1a1a" stroke="#1a1a1a" stroke-width="0.22" >0.2</text>
<line x1="39.20" y1="349.44" x2="42.50" y2="349.44" stroke="#939393" stroke-width="1"/>
<text x="34.00" y="352.94" font-size="9.8" text-anchor="end" font-weight="normal" fill="#1a1a1a" stroke="#1a1a1a" stroke-width="0.22" >0.4</text>
<line x1="39.20" y1="330.96" x2="42.50" y2="330.96" stroke="#939393" stroke-width="1"/>
<text x="34.00" y="334.46" font-size="9.8" text-anchor="end" font-weight="normal" fill="#1a1a1a" stroke="#1a1a1a" stroke-width="0.22" >0.6</text>
<line x1="39.20" y1="312.48" x2="42.50" y2="312.48" stroke="#939393" stroke-width="1"/>
<text x="34.00" y="315.98" font-size="9.8" text-anchor="end" font-weight="normal" fill="#1a1a1a" stroke="#1a1a1a" stroke-width="0.22" >0.8</text>
<line x1="39.20" y1="294.00" x2="42.50" y2="294.00" stroke="#939393" stroke-width="1"/>
<text x="34.00" y="297.50" font-size="9.8" text-anchor="end" font-weight="normal" fill="#1a1a1a" stroke="#1a1a1a" stroke-width="0.22" >1</text>
<line x1="39.20" y1="275.52" x2="42.50" y2="275.52" stroke="#939393" stroke-width="1"/>
<text x="34.00" y="279.02" font-size="9.8" text-anchor="end" font-weight="normal" fill="#1a1a1a" stroke="#1a1a1a" stroke-width="0.22" >1.2</text>
<line x1="39.20" y1="257.04" x2="42.50" y2="257.04" stroke="#939393" stroke-width="1"/>
<text x="34.00" y="260.54" font-size="9.8" text-anchor="end" font-weight="normal" fill="#1a1a1a" stroke="#1a1a1a" stroke-width="0.22" >1.4</text>
<line x1="39.20" y1="238.56" x2="42.50" y2="238.56" stroke="#939393" stroke-width="1"/>
<text x="34.00" y="242.06" font-size="9.8" text-anchor="end" font-weight="normal" fill="#1a1a1a" stroke="#1a1a1a" stroke-width="0.22" >1.6</text>
<text x="86.30" y="404.00" font-size="9.8" text-anchor="middle" font-weight="normal" fill="#1a1a1a" stroke="#1a1a1a" stroke-width="0.22" >Ig G2a</text>
<text x="174.60" y="404.50" font-size="9.8" text-anchor="middle" font-weight="normal" fill="#1a1a1a" stroke="#1a1a1a" stroke-width="0.22" >CD44 KM81 2.5 ug</text>
<rect x="47.50" y="225.10" width="6.80" height="6.80" fill="#5a84c4" />
<text x="57.50" y="232.20" font-size="10.5" text-anchor="start" font-weight="normal" fill="#1a1a1a" stroke="#1a1a1a" stroke-width="0.22" >Zymosan</text>
<rect x="47.50" y="237.80" width="6.80" height="6.80" fill="#b05150" />
<text x="57.50" y="244.90" font-size="10.5" text-anchor="start" font-weight="normal" fill="#1a1a1a" stroke="#1a1a1a" stroke-width="0.22" >Zymosan + activated hMSCs</text>
<rect x="47.50" y="250.40" width="6.80" height="6.80" fill="#a4bb5e" />
<text x="57.50" y="257.50" font-size="10.5" text-anchor="start" font-weight="normal" fill="#1a1a1a" stroke="#1a1a1a" stroke-width="0.22" >Zymosan + TSG-6</text>
<text x="86.50" y="301.00" font-size="10.2" text-anchor="middle" font-weight="bold" fill="#111"  >*</text>
<text x="109.20" y="306.00" font-size="10.2" text-anchor="middle" font-weight="bold" fill="#111"  letter-spacing="0.7">**</text>
<text transform="translate(12.3,305.7) rotate(-90)" font-size="11.7" font-weight="bold" text-anchor="middle" fill="#111" textLength="83.2" lengthAdjust="spacingAndGlyphs">RQ for mTNF-α</text>
<line x1="264.61" y1="262.00" x2="264.61" y2="286.85" stroke="#333" stroke-width="1"/>
<line x1="262.81" y1="262.00" x2="266.41" y2="262.00" stroke="#333" stroke-width="1"/>
<rect x="259.73" y="286.35" width="9.75" height="78.85" fill="#5a84c4" />
<line x1="274.36" y1="319.80" x2="274.36" y2="327.85" stroke="#333" stroke-width="1"/>
<line x1="272.56" y1="319.80" x2="276.16" y2="319.80" stroke="#333" stroke-width="1"/>
<rect x="269.48" y="327.35" width="9.75" height="37.85" fill="#b05150" />
<line x1="284.11" y1="315.90" x2="284.11" y2="328.48" stroke="#333" stroke-width="1"/>
<line x1="282.31" y1="315.90" x2="285.91" y2="315.90" stroke="#333" stroke-width="1"/>
<rect x="279.23" y="327.98" width="9.75" height="37.22" fill="#a4bb5e" />
<line x1="308.32" y1="261.25" x2="308.32" y2="286.85" stroke="#333" stroke-width="1"/>
<line x1="306.52" y1="261.25" x2="310.12" y2="261.25" stroke="#333" stroke-width="1"/>
<rect x="303.45" y="286.35" width="9.75" height="78.85" fill="#5a84c4" />
<line x1="318.07" y1="319.50" x2="318.07" y2="327.06" stroke="#333" stroke-width="1"/>
<line x1="316.27" y1="319.50" x2="319.88" y2="319.50" stroke="#333" stroke-width="1"/>
<rect x="313.20" y="326.56" width="9.75" height="38.64" fill="#b05150" />
<line x1="327.82" y1="314.30" x2="327.82" y2="335.19" stroke="#333" stroke-width="1"/>
<line x1="326.02" y1="314.30" x2="329.62" y2="314.30" stroke="#333" stroke-width="1"/>
<rect x="322.95" y="334.69" width="9.75" height="30.51" fill="#a4bb5e" />
<line x1="352.04" y1="275.50" x2="352.04" y2="286.85" stroke="#333" stroke-width="1"/>
<line x1="350.24" y1="275.50" x2="353.84" y2="275.50" stroke="#333" stroke-width="1"/>
<rect x="347.17" y="286.35" width="9.75" height="78.85" fill="#5a84c4" />
<line x1="361.79" y1="318.00" x2="361.79" y2="326.04" stroke="#333" stroke-width="1"/>
<line x1="359.99" y1="318.00" x2="363.59" y2="318.00" stroke="#333" stroke-width="1"/>
<rect x="356.92" y="325.54" width="9.75" height="39.66" fill="#b05150" />
<line x1="371.54" y1="309.20" x2="371.54" y2="326.04" stroke="#333" stroke-width="1"/>
<line x1="369.74" y1="309.20" x2="373.34" y2="309.20" stroke="#333" stroke-width="1"/>
<rect x="366.67" y="325.54" width="9.75" height="39.66" fill="#a4bb5e" />
<line x1="395.76" y1="276.80" x2="395.76" y2="286.85" stroke="#333" stroke-width="1"/>
<line x1="393.96" y1="276.80" x2="397.56" y2="276.80" stroke="#333" stroke-width="1"/>
<rect x="390.88" y="286.35" width="9.75" height="78.85" fill="#5a84c4" />
<line x1="405.51" y1="295.60" x2="405.51" y2="303.80" stroke="#333" stroke-width="1"/>
<line x1="403.71" y1="295.60" x2="407.31" y2="295.60" stroke="#333" stroke-width="1"/>
<rect x="400.63" y="303.30" width="9.75" height="61.90" fill="#b05150" />
<line x1="415.26" y1="246.30" x2="415.26" y2="274.00" stroke="#333" stroke-width="1"/>
<line x1="413.46" y1="246.30" x2="417.06" y2="246.30" stroke="#333" stroke-width="1"/>
<rect x="410.38" y="273.50" width="9.75" height="91.70" fill="#a4bb5e" />
<line x1="439.47" y1="269.80" x2="439.47" y2="286.85" stroke="#333" stroke-width="1"/>
<line x1="437.67" y1="269.80" x2="441.27" y2="269.80" stroke="#333" stroke-width="1"/>
<rect x="434.60" y="286.35" width="9.75" height="78.85" fill="#5a84c4" />
<line x1="449.22" y1="292.60" x2="449.22" y2="300.81" stroke="#333" stroke-width="1"/>
<line x1="447.42" y1="292.60" x2="451.02" y2="292.60" stroke="#333" stroke-width="1"/>
<rect x="444.35" y="300.31" width="9.75" height="64.89" fill="#b05150" />
<line x1="458.97" y1="260.70" x2="458.97" y2="278.96" stroke="#333" stroke-width="1"/>
<line x1="457.17" y1="260.70" x2="460.77" y2="260.70" stroke="#333" stroke-width="1"/>
<rect x="454.10" y="278.46" width="9.75" height="86.74" fill="#a4bb5e" />
<line x1="483.19" y1="270.70" x2="483.19" y2="286.85" stroke="#333" stroke-width="1"/>
<line x1="481.39" y1="270.70" x2="484.99" y2="270.70" stroke="#333" stroke-width="1"/>
<rect x="478.32" y="286.35" width="9.75" height="78.85" fill="#5a84c4" />
<line x1="492.94" y1="278.90" x2="492.94" y2="286.46" stroke="#333" stroke-width="1"/>
<line x1="491.14" y1="278.90" x2="494.74" y2="278.90" stroke="#333" stroke-width="1"/>
<rect x="488.07" y="285.96" width="9.75" height="79.24" fill="#b05150" />
<line x1="502.69" y1="278.00" x2="502.69" y2="290.00" stroke="#333" stroke-width="1"/>
<line x1="500.89" y1="278.00" x2="504.49" y2="278.00" stroke="#333" stroke-width="1"/>
<rect x="497.82" y="289.50" width="9.75" height="75.70" fill="#a4bb5e" />
<line x1="252.50" y1="239.04" x2="252.50" y2="410.50" stroke="#939393" stroke-width="1"/>
<line x1="252.50" y1="365.20" x2="514.80" y2="365.20" stroke="#939393" stroke-width="1"/>
<line x1="249.00" y1="365.20" x2="252.50" y2="365.20" stroke="#939393" stroke-width="1"/>
<text x="244.30" y="368.70" font-size="9.8" text-anchor="end" font-weight="normal" fill="#1a1a1a" stroke="#1a1a1a" stroke-width="0.22" >0</text>
<line x1="249.00" y1="349.43" x2="252.50" y2="349.43" stroke="#939393" stroke-width="1"/>
<text x="244.30" y="352.93" font-size="9.8" text-anchor="end" font-weight="normal" fill="#1a1a1a" stroke="#1a1a1a" stroke-width="0.22" >0.2</text>
<line x1="249.00" y1="333.66" x2="252.50" y2="333.66" stroke="#939393" stroke-width="1"/>
<text x="244.30" y="337.16" font-size="9.8" text-anchor="end" font-weight="normal" fill="#1a1a1a" stroke="#1a1a1a" stroke-width="0.22" >0.4</text>
<line x1="249.00" y1="317.89" x2="252.50" y2="317.89" stroke="#939393" stroke-width="1"/>
<text x="244.30" y="321.39" font-size="9.8" text-anchor="end" font-weight="normal" fill="#1a1a1a" stroke="#1a1a1a" stroke-width="0.22" >0.6</text>
<line x1="249.00" y1="302.12" x2="252.50" y2="302.12" stroke="#939393" stroke-width="1"/>
<text x="244.30" y="305.62" font-size="9.8" text-anchor="end" font-weight="normal" fill="#1a1a1a" stroke="#1a1a1a" stroke-width="0.22" >0.8</text>
<line x1="249.00" y1="286.35" x2="252.50" y2="286.35" stroke="#939393" stroke-width="1"/>
<text x="244.30" y="289.85" font-size="9.8" text-anchor="end" font-weight="normal" fill="#1a1a1a" stroke="#1a1a1a" stroke-width="0.22" >1</text>
<line x1="249.00" y1="270.58" x2="252.50" y2="270.58" stroke="#939393" stroke-width="1"/>
<text x="244.30" y="274.08" font-size="9.8" text-anchor="end" font-weight="normal" fill="#1a1a1a" stroke="#1a1a1a" stroke-width="0.22" >1.2</text>
<line x1="249.00" y1="254.81" x2="252.50" y2="254.81" stroke="#939393" stroke-width="1"/>
<text x="244.30" y="258.31" font-size="9.8" text-anchor="end" font-weight="normal" fill="#1a1a1a" stroke="#1a1a1a" stroke-width="0.22" >1.4</text>
<line x1="249.00" y1="239.04" x2="252.50" y2="239.04" stroke="#939393" stroke-width="1"/>
<text x="244.30" y="242.54" font-size="9.8" text-anchor="end" font-weight="normal" fill="#1a1a1a" stroke="#1a1a1a" stroke-width="0.22" >1.6</text>
<line x1="296.22" y1="365.20" x2="296.22" y2="389.50" stroke="#939393" stroke-width="1"/>
<line x1="339.93" y1="365.20" x2="339.93" y2="389.50" stroke="#939393" stroke-width="1"/>
<line x1="383.65" y1="365.20" x2="383.65" y2="410.50" stroke="#939393" stroke-width="1"/>
<line x1="427.37" y1="365.20" x2="427.37" y2="389.50" stroke="#939393" stroke-width="1"/>
<line x1="471.08" y1="365.20" x2="471.08" y2="389.50" stroke="#939393" stroke-width="1"/>
<line x1="514.80" y1="365.20" x2="514.80" y2="410.50" stroke="#939393" stroke-width="1"/>
<text x="274.36" y="384.40" font-size="9.8" text-anchor="middle" font-weight="normal" fill="#1a1a1a" stroke="#1a1a1a" stroke-width="0.22" >TNF-α</text>
<text x="318.07" y="384.40" font-size="9.8" text-anchor="middle" font-weight="normal" fill="#1a1a1a" stroke="#1a1a1a" stroke-width="0.22" >CXCL1</text>
<text x="361.79" y="384.40" font-size="9.8" text-anchor="middle" font-weight="normal" fill="#1a1a1a" stroke="#1a1a1a" stroke-width="0.22" >CXCL2</text>
<text x="405.51" y="384.40" font-size="9.8" text-anchor="middle" font-weight="normal" fill="#1a1a1a" stroke="#1a1a1a" stroke-width="0.22" >TNF-α</text>
<text x="449.22" y="384.40" font-size="9.8" text-anchor="middle" font-weight="normal" fill="#1a1a1a" stroke="#1a1a1a" stroke-width="0.22" >CXCL1</text>
<text x="492.94" y="384.40" font-size="9.8" text-anchor="middle" font-weight="normal" fill="#1a1a1a" stroke="#1a1a1a" stroke-width="0.22" >CXCL2</text>
<text x="313.07" y="406.00" font-size="9.8" text-anchor="middle" font-weight="normal" fill="#1a1a1a" stroke="#1a1a1a" stroke-width="0.22" >CD44 (+/+) mice</text>
<text x="449.22" y="405.80" font-size="9.8" text-anchor="middle" font-weight="normal" fill="#1a1a1a" stroke="#1a1a1a" stroke-width="0.22" >CD44 (-/-) mice</text>
<rect x="272.40" y="224.00" width="5.90" height="6.00" fill="#5a84c4" />
<text x="280.70" y="231.10" font-size="11.5" text-anchor="start" font-weight="normal" fill="#1a1a1a" stroke="#1a1a1a" stroke-width="0.22" >HBSS</text>
<rect x="272.40" y="237.70" width="5.90" height="6.00" fill="#b05150" />
<text x="280.70" y="244.10" font-size="11.5" text-anchor="start" font-weight="normal" fill="#1a1a1a" stroke="#1a1a1a" stroke-width="0.22" >hMSCs</text>
<rect x="272.40" y="250.70" width="5.90" height="6.00" fill="#a4bb5e" />
<text x="280.70" y="256.70" font-size="11.5" text-anchor="start" font-weight="normal" fill="#1a1a1a" stroke="#1a1a1a" stroke-width="0.22" >TSG-6</text>
<text x="276.00" y="319.30" font-size="9.8" text-anchor="middle" font-weight="bold" fill="#111"  letter-spacing="0.8">**</text>
<text x="284.70" y="314.00" font-size="9.8" text-anchor="middle" font-weight="bold" fill="#111"  >*</text>
<text x="318.50" y="314.80" font-size="9.8" text-anchor="middle" font-weight="bold" fill="#111"  >*</text>
<text x="328.30" y="307.80" font-size="9.8" text-anchor="middle" font-weight="bold" fill="#111"  >*</text>
<text x="363.00" y="314.20" font-size="9.8" text-anchor="middle" font-weight="bold" fill="#111"  letter-spacing="0.8">**</text>
<text x="373.00" y="303.50" font-size="9.8" text-anchor="middle" font-weight="bold" fill="#111"  >*</text>
<text transform="translate(223.7,308) rotate(-90)" font-size="12" font-weight="bold" text-anchor="middle" fill="#111">RQ</text>
<text x="1.60" y="15.40" font-size="16.5" text-anchor="start" font-weight="bold" fill="#000"  >A</text>
<text x="215.50" y="15.40" font-size="16.5" text-anchor="start" font-weight="bold" fill="#000"  >B</text>
<text x="2.30" y="230.60" font-size="16.5" text-anchor="start" font-weight="bold" fill="#000"  >C</text>
<text x="213.80" y="230.00" font-size="16.5" text-anchor="start" font-weight="bold" fill="#000"  >D</text>
</svg></body></html>
